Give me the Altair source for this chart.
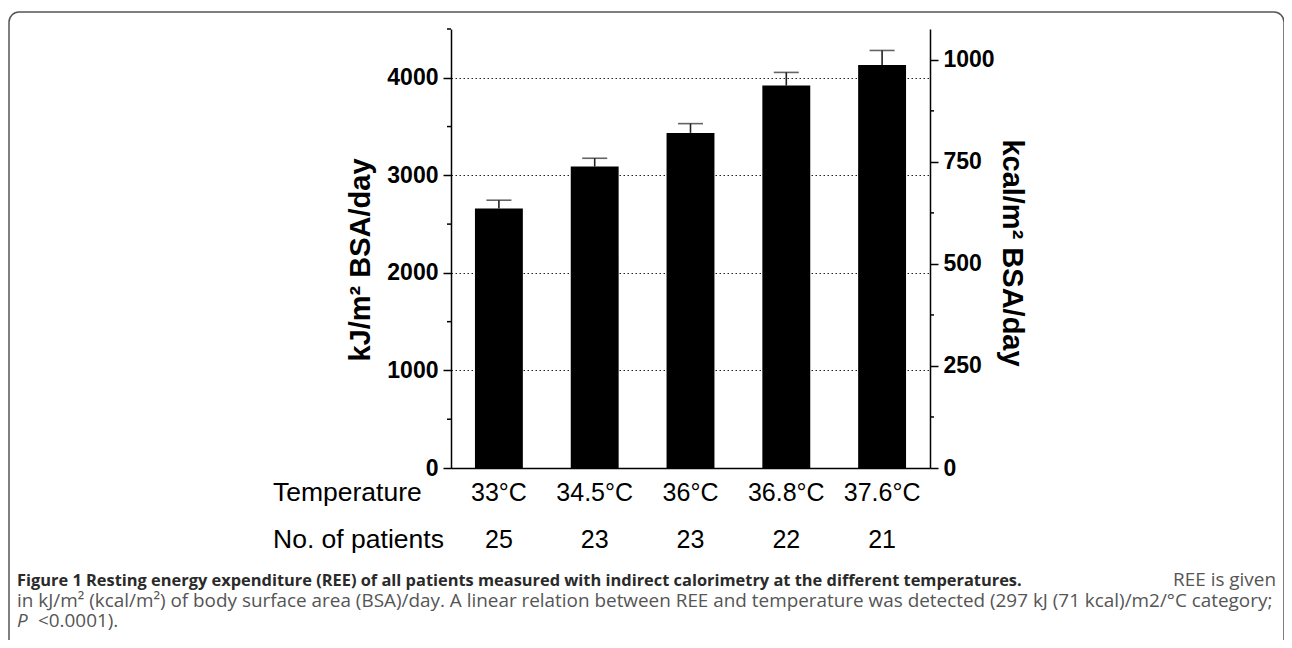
import altair as alt
import pandas as pd

# ---- data ----
temps = ["33°C", "34.5°C", "36°C", "36.8°C", "37.6°C"]
patients = ["25", "23", "23", "22", "21"]
ree_kj = [2660, 3090, 3435, 3920, 4130]
ree_kj_upper = [2745, 3175, 3530, 4055, 4280]
left_major = [0, 1000, 2000, 3000, 4000]
left_minor = [500, 1500, 2500, 3500, 4500]
right_major = [0, 250, 500, 750, 1000]
right_minor = [125, 375, 625, 875]
kj_per_kcal = 4.184
y_max_kj = 4500

caption_bold = "Figure 1 Resting energy expenditure (REE) of all patients measured with indirect calorimetry at the different temperatures."
caption_l1_tail = "REE is given"
caption_l2 = "in kJ/m² (kcal/m²) of body surface area (BSA)/day. A linear relation between REE and temperature was detected (297 kJ (71 kcal)/m2/°C category;"
caption_l3_italic = "P"
caption_l3 = "<0.0001)."

W, H = 479, 439

df = pd.DataFrame({"temp": temps, "n": patients, "mean": ree_kj, "upper": ree_kj_upper})
one = pd.DataFrame({"k": [0]})

yscale = alt.Scale(domain=[0, y_max_kj], nice=False, zero=True)
xenc = alt.X("temp:N", sort=temps,
             scale=alt.Scale(paddingInner=0.5, paddingOuter=0.25),
             axis=alt.Axis(labels=False, ticks=False, title=None,
                           domainColor="black", domainWidth=1.5))

bars = alt.Chart(df).mark_bar(color="black").encode(
    x=xenc,
    y=alt.Y("mean:Q", scale=yscale,
            axis=alt.Axis(values=left_major, format="d", title=None, tickSize=8,
                          tickWidth=1.5, tickColor="black", domainColor="black",
                          domainWidth=1.5, labelFont="Liberation Sans",
                          labelFontWeight="bold", labelFontSize=23, labelColor="black",
                          labelPadding=5, grid=True, gridDash=[1.5, 2.5],
                          gridColor="#222", gridWidth=1.2)),
)
err = alt.Chart(df).mark_rule(color="#222", strokeWidth=1.6).encode(
    x=xenc, y=alt.Y("mean:Q", scale=yscale), y2="upper:Q")
cap = alt.Chart(df).mark_tick(color="#222", thickness=1.6, size=25).encode(
    x=xenc, y=alt.Y("upper:Q", scale=yscale))
minor_l = alt.Chart(pd.DataFrame({"v": left_minor})).mark_rule(
    color="black", strokeWidth=1.5).encode(
    y=alt.Y("v:Q", scale=yscale), x=alt.value(-4), x2=alt.value(0))

temp_lbl = alt.Chart(df).mark_text(font="Liberation Sans", fontSize=25, color="black",
                                   baseline="middle").encode(
    x=xenc, y=alt.value(464), text="temp:N")
n_lbl = alt.Chart(df).mark_text(font="Liberation Sans", fontSize=25, color="black",
                                baseline="middle").encode(
    x=xenc, y=alt.value(511), text="n:N")
row1 = alt.Chart(one).mark_text(font="Liberation Sans", fontSize=26.5, color="black",
                                baseline="middle", align="left", text="Temperature").encode(
    x=alt.value(-178), y=alt.value(464))
row2 = alt.Chart(one).mark_text(font="Liberation Sans", fontSize=26.5, color="black",
                                baseline="middle", align="left", text="No. of patients").encode(
    x=alt.value(-178), y=alt.value(511))

ltitle = alt.Chart(one).mark_text(font="Liberation Sans", fontWeight="bold", fontSize=29,
                                  color="black", angle=270, align="center",
                                  baseline="middle", text="kJ/m²   BSA/day").encode(
    x=alt.value(-90), y=alt.value(231))
rtitle = alt.Chart(one).mark_text(font="Liberation Sans", fontWeight="bold", fontSize=29,
                                  color="black", angle=90, align="center",
                                  baseline="middle", text="kcal/m²   BSA/day").encode(
    x=alt.value(561), y=alt.value(224))

cap_font = "Open Sans"
c1 = alt.Chart(one).mark_text(font=cap_font, fontWeight="bold", fontSize=16.4, color="#2a2a2a",
                              align="left", baseline="alphabetic", text=caption_bold).encode(
    x=alt.value(-434), y=alt.value(557))
c1b = alt.Chart(one).mark_text(font=cap_font, fontSize=18.9, color="#555",
                               align="right", baseline="alphabetic", text=caption_l1_tail).encode(
    x=alt.value(825), y=alt.value(557))
c2 = alt.Chart(one).mark_text(font=cap_font, fontSize=18.9, color="#555",
                              align="left", baseline="alphabetic", text=caption_l2).encode(
    x=alt.value(-434), y=alt.value(578))
c3a = alt.Chart(one).mark_text(font=cap_font, fontSize=18.9, color="#555", fontStyle="italic",
                               align="left", baseline="alphabetic", text=caption_l3_italic).encode(
    x=alt.value(-434), y=alt.value(598))
c3b = alt.Chart(one).mark_text(font=cap_font, fontSize=18.9, color="#555",
                               align="left", baseline="alphabetic", text=caption_l3).encode(
    x=alt.value(-413), y=alt.value(598))

border = alt.Chart(one).mark_rect(fillOpacity=0, stroke="#555", strokeWidth=1.5,
                                  cornerRadius=10).encode(
    x=alt.value(-442), x2=alt.value(833), y=alt.value(-17), y2=alt.value(640))

left = alt.layer(bars, err, cap, minor_l, temp_lbl, n_lbl, row1, row2,
                 ltitle, rtitle, c1, c1b, c2, c3a, c3b, border)

rscale = alt.Scale(domain=[0, y_max_kj / kj_per_kcal], nice=False, zero=True)
right = alt.Chart(pd.DataFrame({"v": right_minor})).mark_rule(
    color="black", strokeWidth=1.5).encode(
    y=alt.Y("v:Q", scale=rscale,
            axis=alt.Axis(orient="right", values=right_major, format="d", title=None,
                          tickSize=8, tickWidth=1.5, tickColor="black",
                          domainColor="black", domainWidth=1.5,
                          labelFont="Liberation Sans", labelFontWeight="bold",
                          labelFontSize=23, labelColor="black", labelPadding=5,
                          grid=False)),
    x=alt.value(W), x2=alt.value(W + 4))

chart = alt.layer(left, right).resolve_scale(y="independent").properties(
    width=W, height=H,
    autosize=alt.AutoSizeParams(type="none"),
    padding={"left": 443, "top": 21, "right": 354, "bottom": 172},
).configure_view(stroke=None)

chart.save("out.html", embed_options={"renderer": "svg", "actions": False})
